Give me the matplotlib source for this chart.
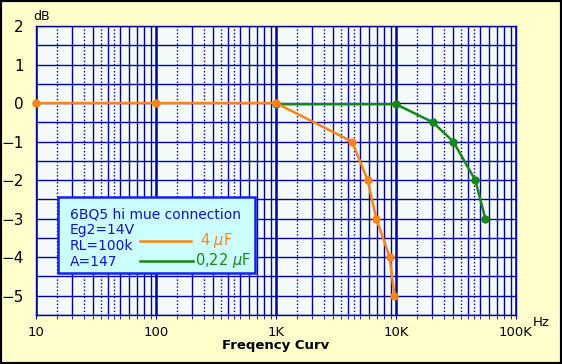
import numpy as np
import matplotlib
matplotlib.use('Agg')
import matplotlib.pyplot as plt
from matplotlib.patches import Rectangle

# frequency response, 6BQ5 hi mue connection
freq_4u = [10, 100, 1000, 4300, 5800, 6850, 8850, 9700]
db_4u = [0, 0, 0, -1, -2, -3, -4, -5]
freq_022u = [1000, 10000, 20300, 30000, 45800, 55500]
db_022u = [-0.03, -0.03, -0.5, -1, -2, -3]

x_ticks = [10, 100, 1000, 10000, 100000]
x_labels = ['10', '100', '1K', '10K', '100K']
y_ticks = [2, 1, 0, -1, -2, -3, -4, -5]
y_labels = ['2', '1', '0', '\u22121', '\u22122', '\u22123', '\u22124', '\u22125']
info_lines = ['6BQ5 hi mue connection', 'Eg2=14V', 'RL=100k', 'A=147']

ORANGE = '#FF8411'
GREEN = '#138A13'
GRID = '#0000AA'
TXT_BLUE = '#1010E0'

plt.rcParams['font.family'] = ['DejaVu Sans']

W, H = 562, 364
fig = plt.figure(figsize=(W / 100, H / 100), dpi=100, facecolor='#FFFFCC')
ax = fig.add_axes([36 / W, 49 / H, 480 / W, 289 / H])
ax.set_facecolor('#F4FAF8')
ax.set_xscale('log')
ax.set_xlim(10, 100000)
ax.set_ylim(-5.5, 2)

# grid: decades, solid minors, dotted half steps
decades = [10, 100, 1000, 10000]
for d in decades:
    for m in range(2, 10):
        ax.axvline(d * m, color=GRID, lw=1.0, zorder=1)
    for m in [1.5, 2.5, 3.5, 4.5]:
        ax.axvline(d * m, color=GRID, lw=1.0, ls=(0, (1, 1.5)), zorder=1)
for d in x_ticks:
    ax.axvline(d, color=GRID, lw=1.8, zorder=1)
for yv in np.arange(-5.5, 2.01, 0.5):
    ax.axhline(yv, color=GRID, lw=1.0, zorder=1)

for s in ax.spines.values():
    s.set_color(GRID)
    s.set_linewidth(1.0)

ax.set_xticks(x_ticks)
ax.set_xticklabels(x_labels, fontsize=9.5)
minors = [d * m for d in decades for m in [1.5, 2, 2.5, 3, 3.5, 4, 4.5, 5, 6, 7, 8, 9]]
ax.set_xticks(minors, minor=True)
ax.set_xticklabels([], minor=True)
ax.tick_params(axis='x', which='both', direction='out', length=3, color=GRID, pad=5)
ax.set_yticks(y_ticks)
ax.set_yticklabels(y_labels, fontsize=11)
ax.tick_params(axis='y', length=0, pad=9)

ax.plot(freq_022u, db_022u, color=GREEN, lw=1.8, marker='o', ms=5, zorder=3)
ax.plot(freq_4u, db_4u, color=ORANGE, lw=1.8, marker='o', ms=5, zorder=4, clip_on=False)

fig.text(33 / W, 1 - 16 / H, 'dB', fontsize=9, va='center', ha='left')
fig.text(533 / W, 1 - 323 / H, 'Hz', fontsize=9.5, va='center', ha='left')
fig.text(276 / W, 1 - 345 / H, 'Freqency Curv', fontsize=9.5, fontweight='bold',
         va='center', ha='center')

# info box
box = Rectangle((58 / W, 1 - 273 / H), 197 / W, 76 / H, transform=fig.transFigure,
                facecolor='#CCFFFF', edgecolor='#1020FF', lw=1.8, zorder=5)
fig.patches.append(box)
for i, t in enumerate(info_lines):
    fig.text(70 / W, 1 - (214 + i * 16) / H, t, color=TXT_BLUE, fontsize=10,
             va='center', ha='left', zorder=6)
fig.add_artist(plt.Line2D([140 / W, 191 / W], [1 - 241 / H, 1 - 241 / H],
                          color=ORANGE, lw=1.8, transform=fig.transFigure, zorder=6))
fig.add_artist(plt.Line2D([140 / W, 193 / W], [1 - 261 / H, 1 - 261 / H],
                          color=GREEN, lw=1.8, transform=fig.transFigure, zorder=6))
fig.text(200 / W, 1 - 241 / H, '4 $\\mu$F', color=ORANGE, fontsize=10.5,
         va='center', ha='left', zorder=6)
fig.text(195 / W, 1 - 261 / H, '0,22 $\\mu$F', color=GREEN, fontsize=10.5,
         va='center', ha='left', zorder=6)

# outer frame
fig.patches.append(Rectangle((0, 0), 1, 1, transform=fig.transFigure, fill=False,
                             edgecolor='black', lw=3, zorder=10))

fig.savefig('out.png', dpi=100, facecolor=fig.get_facecolor())
